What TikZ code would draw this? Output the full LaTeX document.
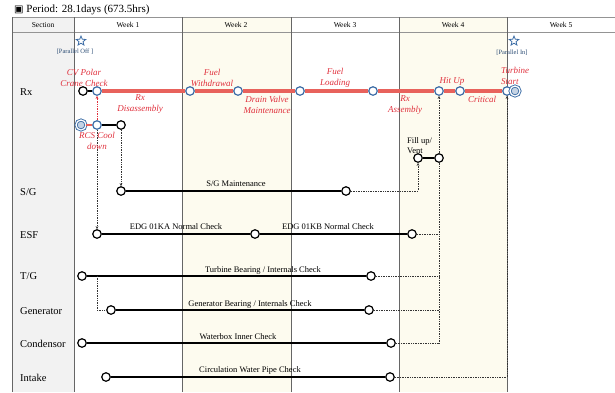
\documentclass[tikz,border=0pt]{standalone}
\usepackage{fontspec}
\setmainfont{Liberation Serif}
\newfontfamily\symfont{DejaVu Sans}
\usepackage{tikz}
\usetikzlibrary{shapes.geometric, arrows.meta}
\definecolor{rxred}{HTML}{E8625C}
\definecolor{lblred}{HTML}{E0303C}
\definecolor{evblue}{HTML}{3D6DA6}
\definecolor{cream}{HTML}{FDFBEF}
\definecolor{secgray}{HTML}{F2F2F2}
\definecolor{gridc}{HTML}{666666}

\begin{document}
\begin{tikzpicture}[
        x=1pt, y=-1pt,
        ev/.style={circle, draw=evblue, fill=white, line width=1.2pt, inner sep=0pt, minimum size=8.5pt},
        evk/.style={ev, draw=black},
        evdbl/.style={circle, draw=evblue, fill=evblue!30, double=white, double distance=1.2pt, line width=0.9pt, inner sep=0pt, minimum size=10pt},
        rxline/.style={draw=rxred, line width=3.2pt},
        taskline/.style={draw=black, line width=1.5pt},
        link/.style={densely dotted, line width=0.7pt, draw=gray!40!black},
        tip/.style={-{Stealth[length=3pt, width=2.6pt]}},
        lbl/.style={text=lblred, font=\itshape\fontsize{9}{10.5}\selectfont, align=center, inner sep=0pt},
        tasklbl/.style={font=\fontsize{8.5}{10}\selectfont, inner sep=0pt},
        rowlbl/.style={anchor=west, font=\fontsize{10.5}{12}\selectfont, inner sep=0pt},
        hdr/.style={font=\fontsize{7.5}{9}\selectfont, inner sep=0pt},
        mark star/.style={star, star points=5, star point ratio=2.3, draw=evblue, line width=0.8pt, inner sep=0pt, minimum size=10pt},
        tag/.style={text=evblue!70!black, font=\fontsize{6.5}{8}\selectfont, inner sep=0pt}
    ]
    \useasboundingbox (0,0) rectangle (615,392);
%
    % Table
    \fill[secgray] (12,17) rectangle (74,392);
    \fill[cream] (182,17) rectangle (291,392);
    \fill[cream] (399,17) rectangle (507,392);
    \draw[gridc!70, line width=0.6pt] (12,17) -- (615,17);
    \draw[gridc!70, line width=0.6pt] (12,32) -- (615,32);
    \foreach \x in {12,74,182,291,399,507}
        \draw[gridc, line width=0.6pt] (\x,17) -- (\x,392);
    \node[anchor=west, font=\fontsize{11}{12}\selectfont, inner sep=0pt] (title) at (14,10) {{\symfont\fontsize{10}{10}\selectfont ▣} Period: 28.1days (673.5hrs)};
    \node[hdr] (hsec) at (43,25) {Section};
    \foreach \x/\i in {128/1,236/2,345/3,453/4,561/5}
        \node[hdr] (hw\i) at (\x,25) {Week \i};
%
    % Rows
    \node[rowlbl] (lrx) at (20,92) {Rx};
    \node[rowlbl] (lsg) at (20,192) {S/G};
    \node[rowlbl] (lesf) at (20,235) {ESF};
    \node[rowlbl] (ltg) at (20,276) {T/G};
    \node[rowlbl] (lgen) at (20,311) {Generator};
    \node[rowlbl] (lcd) at (20,344) {Condensor};
    \node[rowlbl] (lin) at (20,378) {Intake};
%
    % Parallel off / in
    \node[mark star] (soff) at (81,41) {};
    \node[tag] (toff) at (75,52) {[Parallel Off ]};
    \node[mark star] (son) at (514,41) {};
    \node[tag] (ton) at (512,53) {[Parallel In]};
%
    % Rx events
    \node[evk] (rx0) at (83,91) {};
    \node[ev] (rx1) at (97,91) {};
    \node[ev] (rx2) at (190,91) {};
    \node[ev] (rx3) at (238,91) {};
    \node[ev] (rx4) at (300,91) {};
    \node[ev] (rx5) at (373,91) {};
    \node[ev] (rx6) at (439,91) {};
    \node[ev] (rx7) at (460,91) {};
    \node[ev] (rx8) at (507,91) {};
    \node[evdbl] (rx9) at (515,91) {};
    \node[evdbl] (rc1) at (81,125) {};
    \node[ev] (rc2) at (97,125) {};
    \node[evk] (rc3) at (121,125) {};
    \node[evk] (fv1) at (418,158) {};
    \node[evk] (fv2) at (439,158) {};
%
    % Other events
    \node[evk] (sg1) at (121,191) {};
    \node[evk] (sg2) at (346,191) {};
    \node[evk] (esf1) at (97,234) {};
    \node[evk] (esf2) at (255,234) {};
    \node[evk] (esf3) at (412,234) {};
    \node[evk] (tg1) at (82,276) {};
    \node[evk] (tg2) at (371,276) {};
    \node[evk] (gen1) at (111,310) {};
    \node[evk] (gen2) at (369,310) {};
    \node[evk] (cd1) at (82,343) {};
    \node[evk] (cd2) at (391,343) {};
    \node[evk] (in1) at (106,377) {};
    \node[evk] (in2) at (390,377) {};
    \coordinate (jc) at (439,343);
    \coordinate (tgb) at (97,276);
%
    % Lines
    \draw[taskline] (rx0) -- (rx1);
    \draw[rxline] (rx1) -- (rx2) (rx2) -- (rx3) (rx3) -- (rx4) (rx4) -- (rx5) (rx5) -- (rx6) (rx6) -- (rx7) (rx7) -- (rx8);
    \draw[rxline, line width=2.4pt] (rc1) -- (rc2);
    \draw[taskline] (rc2) -- (rc3);
    \draw[taskline] (fv1) -- (fv2);
    \draw[taskline] (sg1) -- (sg2);
    \draw[taskline] (esf1) -- (esf2);
    \draw[taskline] (esf2) -- (esf3);
    \draw[taskline] (tg1) -- (tg2);
    \draw[taskline, line width=1.9pt] (gen1) -- (gen2);
    \draw[taskline] (cd1) -- (cd2);
    \draw[taskline, line width=1.9pt] (in1) -- (in2);
%
    % Links
    \draw[link, tip, draw=lblred] (rc2) -- (rx1);
    \draw[link, tip] (rc2) -- (esf1);
    \draw[link, tip] (rc3) -- (sg1);
    \draw[link, tip] (sg2) -| (fv1);
    \draw[link] (tgb) |- (gen1);
    \draw[link] (tg2) -- (tg2 -| jc);
    \draw[link] (gen2) -- (gen2 -| jc);
    \draw[link] (esf3) -- (esf3 -| jc);
    \draw[link] (cd2) -- (jc) -- (fv2);
    \draw[link, tip] (fv2) -- (rx6);
    \draw[link, tip] (in2) -| (rx8);
%
    % Labels
    \node[lbl] (lcv) at (84,78) {CV Polar\\Crane Check};
    \node[lbl] (ldis) at (140,104) {Rx\\Disassembly};
    \node[lbl] (lfw) at (212,78) {Fuel\\Withdrawal};
    \node[lbl] (ldv) at (267,105) {Drain Valve\\Maintenance};
    \node[lbl] (lfl) at (335,78) {Fuel\\Loading};
    \node[lbl] (lass) at (405,105) {Rx\\Assembly};
    \node[lbl] (lhit) at (452,81) {Hit Up};
    \node[lbl] (lcrit) at (482,99) {Critical};
    \node[lbl, anchor=west, align=left] (lts) at (501,76) {Turbine\\Start};
    \node[lbl] (lrcs) at (97,141) {RCS Cool\\down};
    \node[tasklbl, anchor=west, align=left] (lfv) at (407,146) {Fill up/\\Vent};
    \node[tasklbl] (tsg) at (236,184) {S/G Maintenance};
    \node[tasklbl] (tka) at (176,227) {EDG 01KA Normal Check};
    \node[tasklbl] (tkb) at (328,227) {EDG 01KB Normal Check};
    \node[tasklbl] (ttg) at (263,270) {Turbine Bearing / Internals Check};
    \node[tasklbl] (tgen) at (250,304) {Generator Bearing / Internals Check};
    \node[tasklbl] (tcd) at (238,337) {Waterbox Inner Check};
    \node[tasklbl] (tin) at (250,370) {Circulation Water Pipe Check};
%
\end{tikzpicture}
\end{document}
